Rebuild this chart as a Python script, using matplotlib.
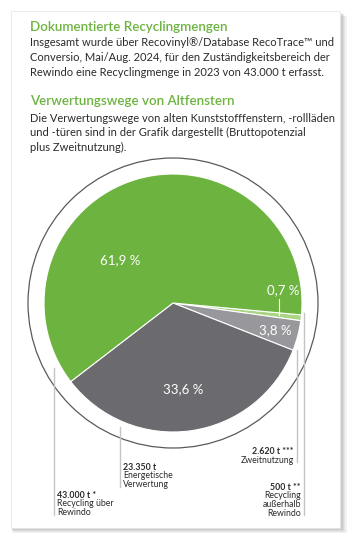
import matplotlib
matplotlib.use("Agg")
import matplotlib.pyplot as plt
from matplotlib.patches import Rectangle, Circle

# ---- data ----
tonnes = [500, 2620, 23350, 43000]
pct_labels = ["0,7 %", "3,8 %", "33,6 %", "61,9 %"]
slice_colors = ["#a9d483", "#98979c", "#6b6a6f", "#6db33f"]
amount_labels = ["500 t **", "2.620 t ***", "23.350 t", "43.000 t *"]
desc_labels = [["Recycling", "außerhalb", "Rewindo"], ["Zweitnutzung"],
               ["Energetische", "Verwertung"], ["Recycling über", "Rewindo"]]

title1 = "Dokumentierte Recyclingmengen"
body1 = ["Insgesamt wurde über Recovinyl®/Database RecoTrace™ und",
         "Conversio, Mai/Aug. 2024, für den Zuständigkeitsbereich der",
         "Rewindo eine Recyclingmenge in 2023 von 43.000 t erfasst."]
title2 = "Verwertungswege von Altfenstern"
body2 = ["Die Verwertungswege von alten Kunststofffenstern, -rollläden",
         "und -türen sind in der Grafik dargestellt (Bruttopotenzial",
         "plus Zweitnutzung)."]

W, H = 359, 546
fig = plt.figure(figsize=(W / 100, H / 100), dpi=100)
ax = fig.add_axes([0, 0, 1, 1])


def Y(py):
    return H - py


FONT = "Lato"
GREEN = "#6db33f"
TXT = "#2b2b2b"

# pie
cx, cy, R = 173, Y(303), 129
wedges, _ = ax.pie(tonnes, colors=slice_colors, startangle=-5.3, counterclock=False,
                   center=(cx, cy), radius=R, frame=True,
                   wedgeprops=dict(edgecolor="white", linewidth=0.8))
for w in wedges:
    w.set_zorder(3)
ax.set_xlim(0, W)
ax.set_ylim(0, H)
ax.set_aspect("equal")
ax.axis("off")

# card with shadow
for i, a in enumerate([0.05, 0.05, 0.05, 0.06, 0.07]):
    off = 5 - i
    ax.add_patch(Rectangle((11 + off * 0.3, Y(528) - off), 329 + off, 517, facecolor="black",
                           alpha=a, edgecolor="none", zorder=0))
ax.add_patch(Rectangle((11, Y(528)), 329, 517, facecolor="white", edgecolor="#e6e6e6",
                       lw=0.5, zorder=1))

# texts
ax.text(30, Y(27), title1, color=GREEN, fontsize=9.6, fontfamily=FONT, fontweight="semibold",
        va="center", ha="left", zorder=5)
for i, line in enumerate(body1):
    ax.text(30, Y(43 + i * 14.6), line, color=TXT, fontsize=8.0, fontfamily=FONT,
            va="center", ha="left", zorder=5)
ax.text(30, Y(101), title2, color=GREEN, fontsize=9.6, fontfamily=FONT, fontweight="semibold",
        va="center", ha="left", zorder=5)
for i, line in enumerate(body2):
    ax.text(30, Y(118 + i * 14.6), line, color=TXT, fontsize=8.0, fontfamily=FONT,
            va="center", ha="left", zorder=5)

# outer ring
ax.add_patch(Circle((cx, cy), 145, facecolor="none", edgecolor="#5a5a5a", lw=0.9, zorder=2))

# percentage labels
pct_pos = [(283, 290), (275, 330), (183, 389), (120, 260)]
for lab, (px, py) in zip(pct_labels, pct_pos):
    ax.text(px, Y(py), lab, color="white", fontsize=9.5, fontfamily=FONT,
            ha="center", va="center", zorder=6)
# small leader for 0,7 %
ax.plot([279, 279], [Y(299), Y(315)], color="white", lw=0.8, zorder=6)

# leader lines
LC = "#c4c4c4"
ax.plot([53.5, 53.5], [Y(368), Y(515)], color=LC, lw=1.0, zorder=2)
ax.plot([120, 120], [Y(427), Y(487)], color=LC, lw=1.0, zorder=2)
ax.plot([297, 297], [Y(350), Y(462)], color=LC, lw=1.0, zorder=4)
ax.plot([304, 304], [Y(313), Y(515)], color=LC, lw=1.0, zorder=4)

# amount labels: (x, y of first line, alignment)
fs = 6.3
step = 8.7
label_pos = [(301, 487, "right"), (294, 452, "right"), (123, 467, "left"), (57, 495, "left")]
for amt, desc, (px, py, ha) in zip(amount_labels, desc_labels, label_pos):
    ax.text(px, Y(py), amt, color=TXT, fontsize=fs, fontfamily=FONT, fontweight="bold",
            ha=ha, va="center", zorder=6)
    for j, d in enumerate(desc):
        ax.text(px, Y(py + step * (j + 1)), d, color=TXT, fontsize=fs, fontfamily=FONT,
                ha=ha, va="center", zorder=6)

fig.savefig("out.png", dpi=100, facecolor="white")
